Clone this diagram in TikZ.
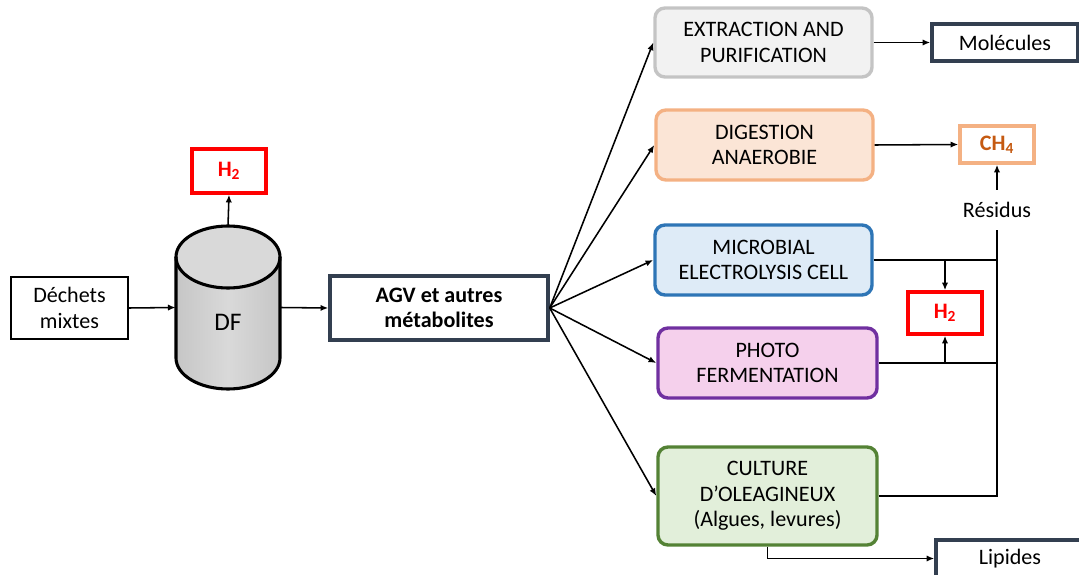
\documentclass[tikz,border=0pt]{standalone}
\usepackage{fontspec}
\setmainfont{Carlito}
\usepackage{tikz}
\usetikzlibrary{arrows.meta}
\definecolor{navy}{HTML}{333F50}
\definecolor{extfill}{HTML}{F2F2F2}
\definecolor{extline}{HTML}{C4C4C4}
\definecolor{digfill}{HTML}{FBE5D6}
\definecolor{digline}{HTML}{F4B183}
\definecolor{mecfill}{HTML}{DEEBF7}
\definecolor{mecline}{HTML}{2E75B6}
\definecolor{phofill}{HTML}{F5D0EC}
\definecolor{pholine}{HTML}{7030A0}
\definecolor{culfill}{HTML}{E2EFDA}
\definecolor{culline}{HTML}{548235}
\definecolor{chtext}{HTML}{C55A11}
\definecolor{cylfill}{HTML}{D9D9D9}
\definecolor{cylside}{HTML}{C6C6C6}

\begin{document}
\begin{tikzpicture}[x=0.025cm, y=0.025cm,
	every node/.style={font=\fontsize{15.7}{18}\selectfont, align=center, inner sep=0pt},
	arr/.style={-{Latex[length=5.5pt, width=4.5pt]}, line width=1.1pt},
	link/.style={line width=1.1pt},
	wastebox/.style={draw=black, line width=1.3pt, minimum width=2.925cm, minimum height=1.55cm},
	outbox/.style={draw=navy, line width=2.4pt, minimum width=3.65cm, minimum height=0.925cm},
	gasbox/.style={draw=red, line width=2.4pt, text=red, font=\fontsize{15.7}{18}\selectfont\bfseries, minimum width=1.85cm, minimum height=1.1cm},
	process/.style={rounded corners=0.25cm, line width=2.4pt, minimum width=5.425cm, minimum height=1.75cm}
	]
	
	\useasboundingbox (0, 0) rectangle (1079, 574);
	\clip (0, 0) rectangle (1079, 574);
	
	% left part
	\node[wastebox] (dechets) at (69.5, 266) {Déchets\\mixtes};
	\shade[left color=cylside, right color=cylside, middle color=cylfill] (176, 317) -- (176, 216) arc[start angle=180, end angle=360, x radius=52, y radius=31] -- (280, 317) arc[start angle=0, end angle=180, x radius=52, y radius=31];
	\fill[cylfill] (228, 317) ellipse[x radius=52, y radius=31];
	\draw[line width=2.2pt] (176, 317) -- (176, 216) arc[start angle=180, end angle=360, x radius=52, y radius=31] -- (280, 317);
	\draw[line width=2.2pt] (228, 317) ellipse[x radius=52, y radius=31];
	\node[minimum width=2.6cm, minimum height=4.075cm] (df) at (228, 266.5) {};
	\node[font=\fontsize{18}{20}\selectfont] (dftext) at (228, 252) {DF};
	\node[gasbox] (h2a) at (229, 403) {H\textsubscript{2}};
	\node[draw=navy, line width=2.4pt, minimum width=5.45cm, minimum height=1.6cm, font=\fontsize{15.7}{18}\selectfont\bfseries] (agv) at (439, 266) {AGV et autres\\métabolites};
	
	\draw[arr] (dechets.east) -- (df.west);
	\draw[arr] (df.north) -- (h2a.south);
	\draw[arr] (df.east) -- (agv.west);
	
	% process boxes
	\node[process, draw=extline, fill=extfill, minimum height=1.725cm] (extraction) at (763.5, 531.5) {EXTRACTION AND\\PURIFICATION};
	\node[process, draw=digline, fill=digfill] (digestion) at (764.5, 429) {DIGESTION\\ANAEROBIE};
	\node[process, draw=mecline, fill=mecfill] (mec) at (763.5, 314) {MICROBIAL\\ELECTROLYSIS CELL};
	\node[process, draw=pholine, fill=phofill, minimum width=5.475cm] (photo) at (767.5, 211) {PHOTO\\FERMENTATION};
	\node[process, draw=culline, fill=culfill, minimum width=5.475cm, minimum height=2.45cm] (culture) at (767.5, 78) {CULTURE\\D’OLEAGINEUX\\(Algues, levures)};
	
	\foreach \t in {extraction, digestion, mec, photo, culture}
		\draw[arr] (agv.east) -- (\t.west);
	
	% products
	\node[outbox] (molecules) at (1005, 531.5) {Molécules};
	\node[gasbox, draw=digline, text=chtext, minimum height=0.925cm] (ch4) at (997, 429.5) {CH\textsubscript{4}};
	\node[fill=white, minimum width=3.7cm, minimum height=1cm] (residus) at (997, 364) {Résidus};
	\node[gasbox, minimum height=1.05cm] (h2b) at (945, 261) {H\textsubscript{2}};
	\node[outbox, minimum width=3.7cm] (lipides) at (1010, 15.5) {Lipides};
	
	\draw[arr] (extraction.east) -- (molecules.west);
	\draw[arr] (digestion.east) -- (ch4.west);
	\draw[arr] (residus.north) -- (ch4.south);
	\draw[link] (mec.east) -- (mec.east -| residus.south);
	\draw[link] (photo.east) -- (photo.east -| residus.south);
	\draw[link] (culture.east) -| (residus.south);
	\draw[arr] (mec.east -| h2b.north) -- (h2b.north);
	\draw[arr] (photo.east -| h2b.south) -- (h2b.south);
	\draw[arr] (culture.south) |- (lipides.west);
	
\end{tikzpicture}
\end{document}
